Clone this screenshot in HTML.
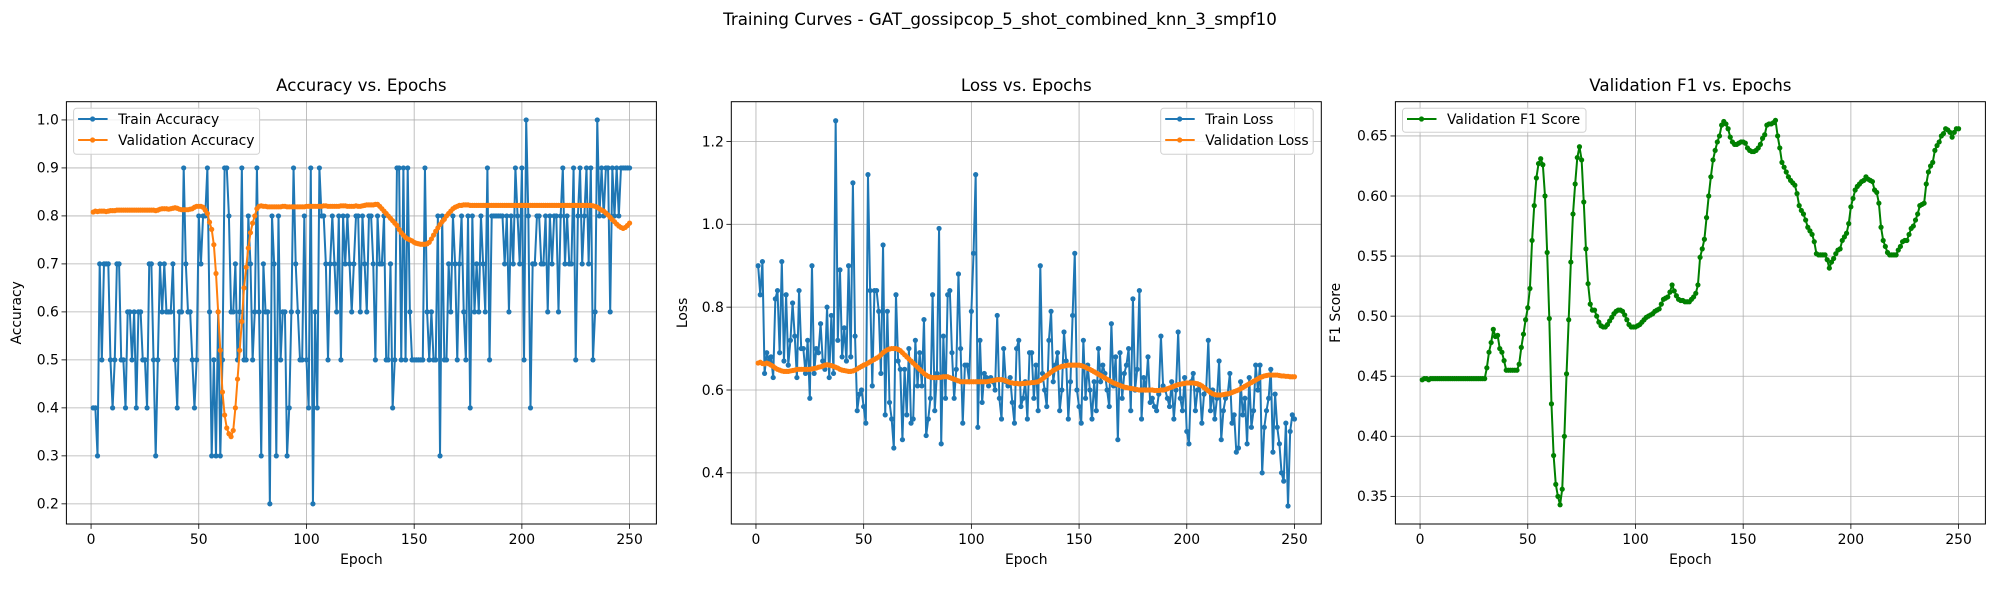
<!DOCTYPE html>
<html><head><meta charset="utf-8">
<style>
html,body{margin:0;padding:0;background:#fff;}
svg{display:block;font-family:"DejaVu Sans","Liberation Sans",sans-serif;}
</style></head>
<body>
<svg id="fig" width="2000" height="600" viewBox="0 0 2000 600" xmlns="http://www.w3.org/2000/svg">
<rect x="0" y="0" width="2000" height="600" fill="#fff"/>
<text x="1000" y="25" font-size="16.7" text-anchor="middle" fill="#000">Training Curves - GAT_gossipcop_5_shot_combined_knn_3_smpf10</text>
</svg>
<script>
const xTicks = [0,50,100,150,200,250];
const accTicks = [0.2,0.3,0.4,0.5,0.6,0.7,0.8,0.9,1.0];
const lossTicks = [0.4,0.6,0.8,1.0,1.2];
const f1Ticks = [0.35,0.40,0.45,0.50,0.55,0.60,0.65];

const trainAcc = [
.4,.4,.3,.7,.5,.7,.7,.7,.5,.4,
.5,.7,.7,.5,.5,.4,.6,.6,.5,.6,
.4,.6,.6,.5,.5,.4,.7,.7,.5,.3,
.5,.7,.6,.7,.6,.6,.6,.7,.5,.4,
.6,.6,.9,.7,.6,.6,.5,.4,.5,.8,
.7,.8,.8,.9,.6,.3,.5,.3,.6,.3,
.5,.9,.9,.8,.6,.6,.7,.5,.6,.9,
.5,.5,.8,.7,.5,.6,.9,.6,.3,.7,
.6,.6,.2,.8,.7,.3,.8,.5,.6,.6,
.3,.4,.6,.9,.7,.6,.5,.5,.8,.5,
.4,.9,.2,.6,.4,.9,.8,.8,.7,.5,
.7,.8,.7,.6,.8,.5,.8,.7,.8,.7,
.6,.7,.8,.8,.6,.8,.7,.6,.8,.8,
.7,.5,.8,.7,.7,.8,.5,.5,.7,.4,
.5,.9,.9,.5,.9,.5,.9,.6,.5,.5,
.5,.5,.5,.5,.9,.6,.5,.6,.5,.5,
.8,.3,.8,.5,.5,.7,.6,.8,.7,.5,
.7,.8,.6,.5,.8,.4,.8,.6,.7,.6,
.8,.7,.6,.9,.5,.8,.8,.8,.8,.8,
.8,.7,.8,.6,.8,.7,.9,.8,.7,.9,
.5,1.0,.8,.4,.7,.7,.8,.8,.7,.7,
.8,.6,.8,.7,.8,.8,.6,.8,.9,.7,
.8,.7,.7,.9,.5,.8,.9,.7,.8,.9,
.7,.9,.5,.6,1.0,.8,.9,.8,.9,.9,
.6,.9,.8,.9,.8,.9,.9,.9,.9,.9];

const valAcc = [
.808,.81,.809,.81,.81,.81,.809,.81,.811,.811,
.811,.812,.812,.812,.812,.812,.812,.812,.812,.812,
.812,.812,.812,.812,.812,.812,.812,.812,.812,.811,
.812,.814,.815,.815,.815,.814,.815,.816,.817,.816,
.814,.813,.813,.813,.813,.814,.815,.818,.82,.82,
.82,.818,.812,.805,.787,.772,.74,.68,.60,.52,
.433,.385,.358,.346,.34,.353,.40,.46,.52,.58,
.65,.693,.733,.765,.785,.80,.815,.82,.821,.82,
.82,.819,.819,.819,.819,.819,.819,.819,.82,.82,
.819,.819,.819,.819,.819,.819,.819,.819,.819,.82,
.82,.82,.82,.82,.82,.82,.82,.821,.821,.82,
.82,.82,.82,.82,.82,.821,.821,.821,.82,.82,
.82,.82,.821,.82,.82,.821,.822,.823,.823,.823,
.823,.824,.824,.82,.815,.81,.805,.80,.795,.79,
.785,.78,.772,.765,.76,.755,.752,.75,.748,.745,
.743,.742,.741,.741,.741,.742,.745,.752,.76,.768,
.775,.782,.788,.793,.80,.805,.81,.815,.818,.82,
.822,.822,.823,.823,.823,.822,.822,.822,.822,.822,
.822,.822,.822,.822,.822,.822,.822,.822,.822,.822,
.822,.822,.822,.822,.822,.822,.822,.822,.822,.822,
.822,.822,.822,.822,.822,.822,.822,.822,.822,.822,
.822,.822,.822,.822,.822,.822,.822,.822,.822,.822,
.822,.822,.822,.822,.822,.822,.822,.822,.822,.822,
.822,.822,.821,.82,.818,.815,.812,.81,.806,.802,
.797,.792,.788,.783,.779,.776,.774,.776,.78,.785];

const trainLoss = [
.90,.83,.91,.64,.69,.67,.68,.63,.82,.84,
.69,.91,.67,.83,.66,.72,.81,.73,.63,.84,
.70,.70,.64,.72,.58,.90,.64,.70,.69,.76,
.67,.65,.80,.63,.78,.64,1.25,.72,.89,.68,
.75,.67,.90,.68,1.10,.73,.55,.59,.60,.56,
.52,1.12,.84,.61,.84,.84,.79,.64,.95,.54,
.79,.57,.53,.46,.83,.67,.65,.48,.65,.54,
.70,.52,.53,.72,.61,.69,.61,.77,.49,.53,
.58,.83,.55,.64,.99,.47,.73,.58,.83,.84,
.69,.58,.65,.88,.70,.52,.66,.66,.62,.79,
.93,1.12,.51,.72,.57,.64,.63,.61,.63,.62,
.60,.78,.58,.53,.70,.62,.61,.63,.57,.52,
.70,.72,.56,.58,.62,.53,.69,.69,.58,.66,
.55,.90,.64,.60,.56,.72,.79,.62,.66,.69,
.55,.60,.74,.67,.53,.62,.78,.93,.60,.56,
.52,.72,.58,.66,.60,.53,.62,.55,.70,.62,
.66,.64,.60,.56,.76,.61,.68,.48,.69,.58,
.64,.66,.70,.55,.82,.60,.65,.84,.53,.63,
.60,.68,.57,.58,.56,.55,.59,.73,.61,.60,
.58,.56,.62,.53,.60,.74,.58,.55,.63,.50,
.47,.62,.64,.55,.60,.61,.52,.59,.60,.72,
.55,.60,.53,.58,.67,.48,.55,.58,.59,.64,
.52,.54,.45,.46,.62,.54,.58,.47,.63,.51,
.55,.66,.60,.66,.40,.51,.55,.58,.65,.45,
.59,.51,.47,.40,.38,.52,.32,.50,.54,.53];

const valLoss = [
.665,.667,.664,.663,.665,.663,.66,.657,.653,.65,
.648,.646,.645,.645,.645,.646,.647,.648,.65,.65,
.65,.65,.65,.65,.65,.651,.652,.653,.655,.656,
.658,.66,.661,.66,.659,.657,.655,.653,.65,.648,
.647,.646,.645,.645,.646,.648,.651,.654,.657,.66,
.662,.665,.668,.671,.674,.677,.68,.685,.69,.694,
.697,.699,.70,.70,.70,.698,.695,.69,.685,.68,
.675,.67,.665,.66,.655,.65,.645,.64,.636,.633,
.631,.63,.63,.63,.63,.631,.632,.632,.632,.63,
.628,.626,.624,.622,.62,.62,.62,.62,.62,.62,
.62,.62,.62,.62,.62,.62,.62,.621,.622,.623,
.624,.625,.625,.625,.624,.622,.62,.618,.617,.616,
.616,.615,.615,.616,.616,.617,.617,.618,.618,.619,
.62,.623,.627,.631,.635,.639,.643,.647,.65,.653,
.655,.657,.658,.659,.66,.66,.66,.66,.66,.66,
.659,.657,.655,.652,.65,.647,.644,.641,.638,.635,
.632,.629,.626,.623,.62,.617,.615,.613,.611,.609,
.607,.606,.605,.604,.603,.602,.601,.60,.60,.60,
.60,.60,.60,.60,.599,.599,.599,.60,.60,.601,
.603,.605,.607,.609,.611,.613,.614,.615,.616,.617,
.617,.617,.617,.616,.615,.613,.61,.606,.602,.598,
.594,.591,.589,.588,.588,.588,.589,.59,.591,.592,
.594,.596,.598,.60,.603,.606,.609,.612,.615,.618,
.621,.624,.627,.63,.632,.634,.635,.636,.636,.636,
.636,.636,.635,.634,.634,.633,.633,.632,.632,.632];

const valF1 = [
.447,.448,.448,.447,.448,.448,.448,.448,.448,.448,
.448,.448,.448,.448,.448,.448,.448,.448,.448,.448,
.448,.448,.448,.448,.448,.448,.448,.448,.448,.448,
.457,.47,.478,.489,.483,.484,.473,.47,.463,.455,
.455,.455,.455,.455,.455,.46,.474,.485,.497,.507,
.523,.563,.592,.615,.627,.631,.626,.60,.553,.498,
.427,.384,.36,.35,.343,.356,.40,.452,.497,.545,
.585,.61,.632,.641,.63,.595,.556,.527,.51,.505,
.505,.50,.495,.492,.491,.491,.493,.496,.499,.502,
.504,.505,.505,.504,.501,.497,.493,.491,.491,.491,
.492,.493,.495,.497,.499,.50,.501,.502,.504,.505,
.506,.51,.514,.515,.516,.52,.526,.521,.517,.514,
.513,.513,.512,.512,.512,.514,.516,.519,.526,.549,
.556,.564,.582,.60,.616,.63,.638,.645,.65,.659,
.662,.66,.656,.649,.645,.643,.643,.644,.645,.645,
.644,.640,.638,.637,.637,.638,.640,.643,.648,.651,
.659,.66,.66,.661,.663,.65,.64,.628,.624,.62,
.616,.613,.611,.609,.602,.592,.588,.585,.58,.574,
.571,.568,.562,.552,.551,.551,.551,.551,.547,.54,
.545,.548,.552,.555,.556,.563,.566,.569,.577,.591,
.598,.605,.608,.61,.612,.613,.616,.614,.613,.612,
.605,.603,.594,.574,.563,.558,.553,.551,.551,.551,
.551,.555,.558,.562,.563,.563,.568,.573,.575,.58,
.585,.592,.593,.594,.61,.62,.625,.628,.638,.642,
.645,.65,.652,.656,.655,.653,.649,.653,.656,.656];

const NS = "http://www.w3.org/2000/svg";
const svg = document.getElementById('fig');
function mk(tag, attrs, parent){
  const e = document.createElementNS(NS, tag);
  for (const k in attrs) e.setAttribute(k, attrs[k]);
  (parent||svg).appendChild(e);
  return e;
}
const TOP = 101.7, BOT = 524, W = 590;
function makeAxes(cfg){
  const g = mk('g', {});
  
  
  const L = cfg.left, R = cfg.left + W;
  const xs = e => L + (e - (-11.45)) / 273.9 * W;
  const ys = v => BOT - (v - cfg.ymin) / (cfg.ymax - cfg.ymin) * (BOT - TOP);
  cfg.yticks.forEach(v => {
    const y = ys(v);
    const gl = mk('line', {x1:L, x2:R, y1:y, y2:y, stroke:'#b0b0b0', 'stroke-width':0.8}, g);
    
    
    mk('line', {x1:L-4.9, x2:L, y1:y, y2:y, stroke:'#000', 'stroke-width':0.8}, g);
    const t = mk('text', {x:L-7.5, y:y+4.8, 'font-size':13.9, 'text-anchor':'end', fill:'#000'}, g);
    
    
    t.textContent = v.toFixed(cfg.dec);
  });
  xTicks.forEach(v => {
    const x = xs(v);
    const gl = mk('line', {x1:x, x2:x, y1:TOP, y2:BOT, stroke:'#b0b0b0', 'stroke-width':0.8}, g);
    
    
    mk('line', {x1:x, x2:x, y1:BOT, y2:BOT+4.9, stroke:'#000', 'stroke-width':0.8}, g);
    const t = mk('text', {x:x, y:BOT+20, 'font-size':13.9, 'text-anchor':'middle', fill:'#000'}, g);
    
    
    t.textContent = String(v);
  });
  cfg.series.forEach(s => {
    const pts = s.data.map((v,i) => xs(i+1).toFixed(2) + ',' + ys(v).toFixed(2)).join(' ');
    const pl = mk('polyline', {points:pts, fill:'none', stroke:s.color, 'stroke-width':2, 'stroke-linejoin':'round'}, g);
    
    
    s.data.forEach((v,i) => {
      const c = mk('circle', {cx:xs(i+1), cy:ys(v), r:2.6, fill:s.color}, g);
      
      
    });
  });
  const fr = mk('rect', {x:L, y:TOP, width:W, height:BOT-TOP, fill:'none', stroke:'#000', 'stroke-width':1}, g);
  
  
  const tt = mk('text', {x:L+W/2, y:91, 'font-size':16.7, 'text-anchor':'middle', fill:'#000'}, g);
  
  
  tt.textContent = cfg.title;
  const xl = mk('text', {x:L+W/2, y:564, 'font-size':13.9, 'text-anchor':'middle', fill:'#000'}, g);
  
  
  xl.textContent = 'Epoch';
  const yl = mk('text', {x:cfg.ylx, y:(TOP+BOT)/2, 'font-size':13.9, 'text-anchor':'middle', fill:'#000', transform:'rotate(-90 '+(cfg.ylx)+' '+((TOP+BOT)/2)+')'}, g);
  
  
  yl.textContent = cfg.ylabel;
  const lg = cfg.legend;
  const lgG = mk('g', {}, g);
  
  
  mk('rect', {x:lg.x, y:108.3, width:lg.w, height:22*cfg.series.length+2, rx:3, fill:'#fff', 'fill-opacity':0.8, stroke:'#d0d0d0', 'stroke-width':1}, lgG);
  cfg.series.forEach((s,i) => {
    const y = 119 + i*21;
    const le = mk('g', {}, lgG);
    
    
    mk('line', {x1:lg.x+4.5, x2:lg.x+34, y1:y, y2:y, stroke:s.color, 'stroke-width':2}, le);
    mk('circle', {cx:lg.x+19, cy:y, r:2.6, fill:s.color}, le);
    const t = mk('text', {x:lg.x+44.5, y:y+5, 'font-size':13.9, fill:'#000'}, le);
    t.textContent = s.label;
  });
}
makeAxes({name:'accuracy-axes', left:66.4, ymin:0.158, ymax:1.038, yticks:accTicks, dec:1,
  title:'Accuracy vs. Epochs', ylabel:'Accuracy', ylx:21,
  legend:{x:73.6, w:186},
  series:[{name:'train-accuracy', label:'Train Accuracy', color:'#1f77b4', data:trainAcc},
          {name:'validation-accuracy', label:'Validation Accuracy', color:'#ff7f0e', data:valAcc}]});
makeAxes({name:'loss-axes', left:731.3, ymin:0.2765, ymax:1.296, yticks:lossTicks, dec:1,
  title:'Loss vs. Epochs', ylabel:'Loss', ylx:687,
  legend:{x:1160.7, w:152.5},
  series:[{name:'train-loss', label:'Train Loss', color:'#1f77b4', data:trainLoss},
          {name:'validation-loss', label:'Validation Loss', color:'#ff7f0e', data:valLoss}]});
makeAxes({name:'f1-axes', left:1395.4, ymin:0.327, ymax:0.6785, yticks:f1Ticks, dec:2,
  title:'Validation F1 vs. Epochs', ylabel:'F1 Score', ylx:1340,
  legend:{x:1402.5, w:183.5},
  series:[{name:'validation-f1', label:'Validation F1 Score', color:'#008000', data:valF1}]});
</script>
</body></html>
